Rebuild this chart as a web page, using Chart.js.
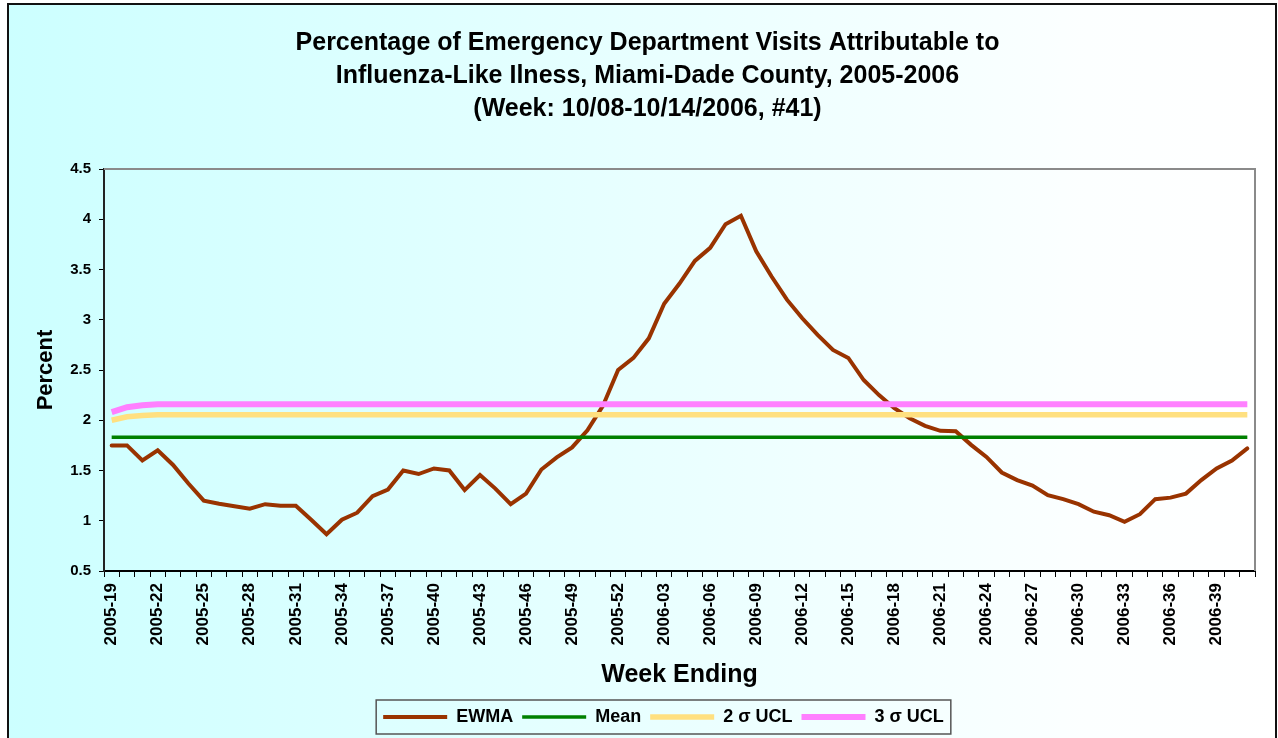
<!DOCTYPE html>
<html>
<head>
<meta charset="utf-8">
<script src="https://cdn.jsdelivr.net/npm/chart.js@4"></script>
<style>
  html, body { margin: 0; padding: 0; background: #fff; }
  #wrap { width: 1278px; height: 738px; }
</style>
</head>
<body>
<div id="wrap"><canvas id="ili" width="1278" height="738"></canvas></div>
<script>
// weeks 2005-19 .. 2006-41
const weeks = [
  "2005-19","2005-20","2005-21","2005-22","2005-23","2005-24","2005-25","2005-26","2005-27","2005-28",
  "2005-29","2005-30","2005-31","2005-32","2005-33","2005-34","2005-35","2005-36","2005-37","2005-38",
  "2005-39","2005-40","2005-41","2005-42","2005-43","2005-44","2005-45","2005-46","2005-47","2005-48",
  "2005-49","2005-50","2005-51","2005-52","2006-01","2006-02","2006-03","2006-04","2006-05","2006-06",
  "2006-07","2006-08","2006-09","2006-10","2006-11","2006-12","2006-13","2006-14","2006-15","2006-16",
  "2006-17","2006-18","2006-19","2006-20","2006-21","2006-22","2006-23","2006-24","2006-25","2006-26",
  "2006-27","2006-28","2006-29","2006-30","2006-31","2006-32","2006-33","2006-34","2006-35","2006-36",
  "2006-37","2006-38","2006-39","2006-40","2006-41"
];

const ewma = [
  1.75, 1.75, 1.60, 1.70, 1.555, 1.37, 1.20, 1.17, 1.145, 1.12,
  1.165, 1.15, 1.15, 1.01, 0.865, 1.01, 1.08, 1.245, 1.31, 1.50,
  1.465, 1.52, 1.50, 1.305, 1.455, 1.32, 1.165, 1.27, 1.51, 1.63,
  1.73, 1.90, 2.14, 2.50, 2.62, 2.815, 3.16, 3.36, 3.585, 3.715,
  3.95, 4.035, 3.68, 3.43, 3.20, 3.015, 2.85, 2.70, 2.62, 2.40,
  2.25, 2.12, 2.02, 1.945, 1.895, 1.89, 1.755, 1.635, 1.48, 1.405,
  1.35, 1.255, 1.215, 1.165, 1.09, 1.055, 0.99, 1.065, 1.215, 1.23,
  1.27, 1.405, 1.52, 1.60, 1.72
];

const mean = [
  1.83, 1.83, 1.83, 1.83, 1.83, 1.83, 1.83, 1.83, 1.83, 1.83, 1.83, 1.83, 1.83, 1.83, 1.83,
  1.83, 1.83, 1.83, 1.83, 1.83, 1.83, 1.83, 1.83, 1.83, 1.83, 1.83, 1.83, 1.83, 1.83, 1.83,
  1.83, 1.83, 1.83, 1.83, 1.83, 1.83, 1.83, 1.83, 1.83, 1.83, 1.83, 1.83, 1.83, 1.83, 1.83,
  1.83, 1.83, 1.83, 1.83, 1.83, 1.83, 1.83, 1.83, 1.83, 1.83, 1.83, 1.83, 1.83, 1.83, 1.83,
  1.83, 1.83, 1.83, 1.83, 1.83, 1.83, 1.83, 1.83, 1.83, 1.83, 1.83, 1.83, 1.83, 1.83, 1.83
];

const ucl2 = [
  2.00, 2.035, 2.048, 2.055, 2.055, 2.055, 2.055, 2.055, 2.055, 2.055, 2.055, 2.055, 2.055, 2.055, 2.055,
  2.055, 2.055, 2.055, 2.055, 2.055, 2.055, 2.055, 2.055, 2.055, 2.055, 2.055, 2.055, 2.055, 2.055, 2.055,
  2.055, 2.055, 2.055, 2.055, 2.055, 2.055, 2.055, 2.055, 2.055, 2.055, 2.055, 2.055, 2.055, 2.055, 2.055,
  2.055, 2.055, 2.055, 2.055, 2.055, 2.055, 2.055, 2.055, 2.055, 2.055, 2.055, 2.055, 2.055, 2.055, 2.055,
  2.055, 2.055, 2.055, 2.055, 2.055, 2.055, 2.055, 2.055, 2.055, 2.055, 2.055, 2.055, 2.055, 2.055, 2.055
];

const ucl3 = [
  2.08, 2.13, 2.15, 2.16, 2.16, 2.16, 2.16, 2.16, 2.16, 2.16, 2.16, 2.16, 2.16, 2.16, 2.16,
  2.16, 2.16, 2.16, 2.16, 2.16, 2.16, 2.16, 2.16, 2.16, 2.16, 2.16, 2.16, 2.16, 2.16, 2.16,
  2.16, 2.16, 2.16, 2.16, 2.16, 2.16, 2.16, 2.16, 2.16, 2.16, 2.16, 2.16, 2.16, 2.16, 2.16,
  2.16, 2.16, 2.16, 2.16, 2.16, 2.16, 2.16, 2.16, 2.16, 2.16, 2.16, 2.16, 2.16, 2.16, 2.16,
  2.16, 2.16, 2.16, 2.16, 2.16, 2.16, 2.16, 2.16, 2.16, 2.16, 2.16, 2.16, 2.16, 2.16, 2.16
];

const fam = "'Liberation Sans', Arial, sans-serif";

// background gradient, outer frame, plot border and legend box
const frame = {
  id: "frame",
  afterUpdate(chart) {
    // title and legend sit a bit right of centre in the original
    chart.titleBlock.left += 40;
    const lg = chart.legend;
    lg.left += 72;
    const tops = lg.legendHitBoxes.map((h) => h.top);
    lg.adjustHitBoxes();
    lg.legendHitBoxes.forEach((h, i) => { h.top = tops[i]; });
  },
  beforeDraw(chart) {
    const ctx = chart.ctx;
    ctx.save();
    ctx.fillStyle = "#fff";
    ctx.fillRect(0, 0, chart.width, chart.height);
    const g = ctx.createLinearGradient(8, 0, 1276, 0);
    g.addColorStop(0, "#ccffff");
    g.addColorStop(0.85, "#fcffff");
    g.addColorStop(1, "#ffffff");
    ctx.fillStyle = g;
    ctx.fillRect(8, 4, 1268, 740);
    ctx.strokeStyle = "#111";
    ctx.lineWidth = 2;
    ctx.strokeRect(8, 4, 1268, 760);
    ctx.restore();
  },
  beforeDatasetsDraw(chart) {
    const a = chart.chartArea, ctx = chart.ctx;
    ctx.save();
    ctx.strokeStyle = "#8a8a8a";
    ctx.lineWidth = 2;
    ctx.beginPath();
    ctx.moveTo(a.left, a.top);
    ctx.lineTo(a.right, a.top);
    ctx.lineTo(a.right, a.bottom);
    ctx.stroke();
    ctx.restore();
  },
  afterDraw(chart) {
    const lg = chart.legend;
    const boxes = lg.legendHitBoxes;
    if (!boxes || !boxes.length) return;
    let l = Infinity, r = -Infinity;
    boxes.forEach((h) => {
      l = Math.min(l, h.left);
      r = Math.max(r, h.left + h.width);
    });
    const ctx = chart.ctx;
    ctx.save();
    ctx.strokeStyle = "#555";
    ctx.lineWidth = 1.5;
    ctx.strokeRect(l - 7, 700, r - l + 14, 34);
    ctx.restore();
  }
};

new Chart(document.getElementById("ili"), {
  type: "line",
  data: {
    labels: weeks,
    datasets: [
      { label: "EWMA", data: ewma, borderColor: "#993300", backgroundColor: "#993300",
        borderWidth: 4, borderCapStyle: "round", order: 3 },
      { label: "Mean", data: mean, borderColor: "#008000", backgroundColor: "#008000",
        borderWidth: 3.5, order: 2 },
      { label: "2 σ UCL", data: ucl2, borderColor: "#ffe080", backgroundColor: "#ffe080",
        borderWidth: 5.5, order: 1 },
      { label: "3 σ UCL", data: ucl3, borderColor: "#ff80ff", backgroundColor: "#ff80ff",
        borderWidth: 6, order: 0 }
    ]
  },
  options: {
    responsive: false,
    animation: false,
    elements: { point: { radius: 0, hoverRadius: 0 }, line: { tension: 0 } },
    layout: { padding: { left: 0, right: 23, top: 0, bottom: 2 } },
    plugins: {
      tooltip: { enabled: false },
      title: {
        display: true,
        text: [
          "Percentage of Emergency Department Visits Attributable to",
          "Influenza-Like Ilness, Miami-Dade County, 2005-2006",
          "(Week: 10/08-10/14/2006, #41)"
        ],
        color: "#000",
        font: { family: fam, size: 25, weight: "bold", lineHeight: 1.32 },
        padding: { top: 27, bottom: 43 }
      },
      legend: {
        position: "bottom",
        labels: {
          color: "#000",
          font: { family: fam, size: 18, weight: "bold" },
          usePointStyle: true,
          pointStyle: "line",
          pointStyleWidth: 64,
          padding: 9,
          sort: (a, b) => a.datasetIndex - b.datasetIndex
        }
      }
    },
    scales: {
      x: {
        offset: true,
        grid: { offset: true, drawOnChartArea: false, drawTicks: true, tickLength: 6, color: "#000" },
        border: { color: "#000", width: 2 },
        ticks: {
          autoSkip: false,
          maxRotation: 90,
          minRotation: 90,
          padding: 6,
          color: "#000",
          font: { family: fam, size: 17, weight: "bold" },
          callback: function (v, i) { return i % 3 === 0 ? this.getLabelForValue(v) : ""; }
        },
        title: {
          display: true,
          text: "Week Ending",
          color: "#000",
          font: { family: fam, size: 25, weight: "bold" },
          padding: { top: 4, bottom: 9 }
        },
        afterFit: (s) => { s.height = 128; }
      },
      y: {
        min: 0.5,
        max: 4.5,
        grid: { drawOnChartArea: false, drawTicks: true, tickLength: 5, color: "#000" },
        border: { color: "#222", width: 2 },
        ticks: {
          stepSize: 0.5,
          padding: 8,
          color: "#000",
          font: { family: fam, size: 15, weight: "bold" },
          callback: (v) => String(v)
        },
        title: {
          display: true,
          text: "Percent",
          color: "#000",
          font: { family: fam, size: 22, weight: "bold" },
          padding: { top: 33, bottom: 4 }
        },
        afterFit: (s) => { s.width = 104; }
      }
    }
  },
  plugins: [frame]
});
</script>
</body>
</html>
